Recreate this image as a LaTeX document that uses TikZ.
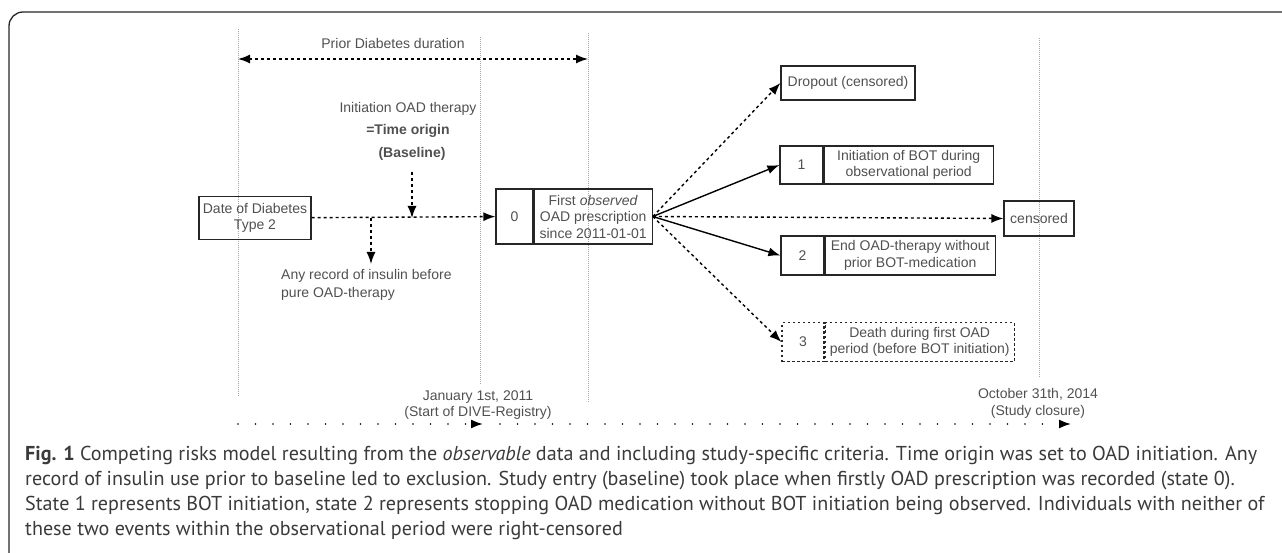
\documentclass[tikz,border=0pt]{standalone}
\usepackage{fontspec}
\setmainfont{Liberation Sans}
\newfontfamily\capfont{PT Sans}
\usetikzlibrary{arrows.meta}
\definecolor{txtgray}{HTML}{505050}
\definecolor{capgray}{HTML}{3A3A3A}
\newcommand{\diafont}{\fontsize{14}{16.5}\selectfont}
\newcommand{\capfirst}{\textbf{Fig. 1} Competing risks model resulting from the \textit{observable} data and including study-specific criteria. Time origin was set to OAD initiation. Any}
\newlength\caplen

\begin{document}
% caption size, so that its first line runs to x=1257
\settowidth\caplen{\capfont\fontsize{10}{12}\selectfont\capfirst}%
\pgfmathsetmacro\capsize{10*1232/\caplen}%
\begin{tikzpicture}[x=1pt,y=-1pt]
  \tikzstyle{stbox}=[draw=black!85, line width=1.2pt, align=center, inner sep=2pt, font=\diafont, text=txtgray]
  \tikzstyle{lbl}=[font=\diafont, text=txtgray, align=center, inner sep=1pt]
  \tikzstyle{edge}=[-{Latex[length=12pt,width=9pt]}, line width=1.4pt]
  \tikzstyle{dotedge}=[edge, dash pattern=on 3pt off 3pt]
  \tikzstyle{guide}=[gray!70, line width=0.7pt, dash pattern=on 1pt off 1pt]
  \tikzstyle{tline}=[-{Latex[length=12pt,width=9pt]}, line width=1.8pt, line cap=round, dash pattern=on 0pt off 17.5pt]

  \useasboundingbox (0,0) rectangle (1282,553);
  % frame
  \draw[line width=1.3pt, black!85, rounded corners=14pt] (9,553) -- (9,12) -- (1282,12);

  % time guides
  \foreach \x/\ya/\yb in {238/29/397, 480/37/385, 588/33/402, 1039/38/378}
    \draw[guide] (\x,\ya) -- (\x,\yb);

  % prior duration
  \node[lbl] (dur) at (393,43) {Prior Diabetes duration};
  \coordinate (dl) at (238,59);
  \coordinate (dr) at (588,59);
  \draw[dotedge, {Latex[length=12pt,width=9pt]}-{Latex[length=12pt,width=9pt]}] (dl) -- (dr);

  % time origin
  \node[lbl] (init) at (408,109) {Initiation OAD therapy};
  \node[lbl, font=\diafont\bfseries] (orig) at (408,131) {=Time origin};
  \node[lbl, font=\diafont\bfseries] (base) at (412,154) {(Baseline)};

  % states
  \node[stbox, minimum width=112pt, minimum height=43pt] (date) at (255,218) {Date of Diabetes\\Type 2};
  \node[stbox, minimum width=37pt, minimum height=55pt] (s0) at (514.5,216.5) {0};
  \node[stbox, minimum width=118pt, minimum height=55pt, anchor=west] (s0t) at (s0.east)
    {First \textit{observed}\\OAD prescription\\since 2011-01-01};
  \node[stbox, minimum width=134pt, minimum height=34pt] (drop) at (848,83) {Dropout (censored)};
  \node[stbox, minimum width=43pt, minimum height=38pt] (s1) at (801.5,165) {1};
  \node[stbox, minimum width=169pt, minimum height=38pt, anchor=west] (s1t) at (s1.east)
    {Initiation of BOT during\\observational period};
  \node[stbox, minimum width=70pt, minimum height=35pt] (cens) at (1039,218.5) {censored};
  \node[stbox, minimum width=43pt, minimum height=39pt] (s2) at (802.5,255.5) {2};
  \node[stbox, minimum width=170pt, minimum height=39pt, anchor=west] (s2t) at (s2.east)
    {End OAD-therapy without\\prior BOT-medication};
  \node[stbox, dash pattern=on 2.5pt off 2.5pt, minimum width=42pt, minimum height=39pt] (s3) at (803,342) {3};
  \node[stbox, dash pattern=on 2.5pt off 2.5pt, minimum width=189pt, minimum height=39pt, anchor=west] (s3t) at (s3.east)
    {Death during first OAD\\period (before BOT initiation)};

  % before baseline
  \coordinate (b1) at (412,172);
  \coordinate (b2) at (412,218);
  \coordinate (br) at (371,218);
  \coordinate (brd) at (371,264);
  \draw[dotedge] (date) -- (s0);
  \draw[dotedge] (b1) -- (b2);
  \draw[dotedge] (br) -- (brd);
  \node[lbl, align=left, anchor=north west, font=\fontsize{14}{18.5}\selectfont] (ins) at (280,268)
    {Any record of insulin before\\pure OAD-therapy};

  % transitions
  \coordinate (hub) at (s0t.east);
  \draw[dotedge] (hub) -- (drop.west);
  \draw[edge] (hub) -- (s1.west);
  \draw[dotedge] (hub) -- (cens.west);
  \draw[edge] (hub) -- (s2.west);
  \draw[dotedge] (hub) -- (s3.west);

  % calendar
  \node[lbl] (jan) at (478,405) {January 1st, 2011\\(Start of DIVE-Registry)};
  \node[lbl] (oct) at (1038,403.5) {October 31th, 2014\\(Study closure)};
  \coordinate (t0) at (238,424);
  \coordinate (t1) at (483,424);
  \coordinate (t2) at (500,424);
  \coordinate (t3) at (1071,424);
  \draw[tline] (t0) -- (t1);
  \draw[tline] (t2) -- (t3);

  % caption
  \node[anchor=north west, align=left, inner sep=0pt, text=capgray, font=\capfont\fontsize{\capsize}{25}\selectfont] (cap) at (25,446)
    {\capfirst\\
     record of insulin use prior to baseline led to exclusion. Study entry (baseline) took place when firstly OAD prescription was recorded (state 0).\\
     State 1 represents BOT initiation, state 2 represents stopping OAD medication without BOT initiation being observed. Individuals with neither of\\
     these two events within the observational period were right-censored};
\end{tikzpicture}
\end{document}
